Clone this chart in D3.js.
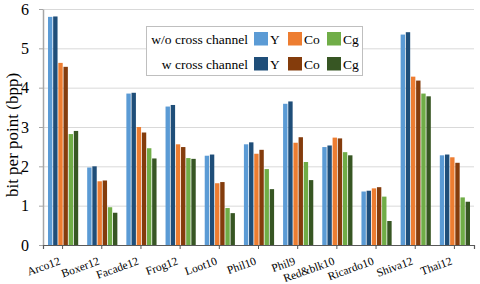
<!DOCTYPE html>
<html><head><meta charset="utf-8">
<script src="https://cdn.jsdelivr.net/npm/d3@7"></script>
<style>
html,body{margin:0;padding:0;background:#fff;}
svg{display:block;}
svg text{font-family:"Liberation Serif","Times New Roman",Tinos,"DejaVu Serif",serif !important;}
</style></head>
<body><svg id="chart" width="480" height="284"></svg>
<script>
const categories = ["Arco12","Boxer12","Facade12","Frog12","Loot10","Phil10","Phil9","Red&blk10","Ricardo10","Shiva12","Thai12"];
const seriesKeys = ["Y_wo","Y_w","Co_wo","Co_w","Cg_wo","Cg_w"];
const Y_wo  = [5.80,1.97,3.85,3.52,2.27,2.56,3.59,2.49,1.36,5.35,2.28];
const Y_w   = [5.81,2.00,3.87,3.56,2.30,2.61,3.65,2.53,1.38,5.41,2.30];
const Co_wo = [4.63,1.62,3.00,2.56,1.57,2.32,2.60,2.73,1.44,4.28,2.23];
const Co_w  = [4.53,1.64,2.86,2.49,1.60,2.42,2.74,2.71,1.47,4.18,2.09];
const Cg_wo = [2.82,0.96,2.46,2.21,0.94,1.93,2.11,2.36,1.23,3.85,1.21];
const Cg_w  = [2.90,0.82,2.20,2.19,0.81,1.42,1.65,2.28,0.61,3.78,1.10];
const yTicks = [0,1,2,3,4,5,6];
const legendRows = ["w/o cross channel","w cross channel"];
const channelNames = ["Y","Co","Cg"];
const colors = ["#5B9BD5","#1F4E79","#ED7D31","#843C0C","#70AD47","#375623"];

const seriesData = [Y_wo,Y_w,Co_wo,Co_w,Cg_wo,Cg_w];
const svg = d3.select("#chart");
const mLeft = 43, mRight = 474, mTop = 9, mBottom = 245;

const x0 = d3.scaleBand().domain(categories).range([mLeft,mRight]).padding(0);
const x1 = d3.scaleBand().domain(seriesKeys).range([5, x0.bandwidth()-4]).paddingInner(0.15).paddingOuter(0);
const y = d3.scaleLinear().domain([0,6]).range([mBottom,mTop]);

// gridlines
svg.append("g").selectAll("line").data(yTicks.filter(d=>d>0)).join("line")
  .attr("x1",mLeft).attr("x2",mRight).attr("y1",d=>y(d)+0.5).attr("y2",d=>y(d)+0.5)
  .attr("stroke","#D9D9D9").attr("stroke-width",1);

// bars
const groups = svg.append("g").selectAll("g").data(categories).join("g")
  .attr("transform",c=>`translate(${x0(c)},0)`);
groups.selectAll("rect").data((c,i)=>seriesKeys.map((k,j)=>({k,j,v:seriesData[j][i]}))).join("rect")
  .attr("x",d=>x1(d.k)).attr("width",x1.bandwidth())
  .attr("y",d=>y(d.v)).attr("height",d=>y(0)-y(d.v))
  .attr("fill",d=>colors[d.j]);

// y axis
const yAxis = svg.append("g").attr("transform",`translate(${mLeft},0)`)
  .call(d3.axisLeft(y).tickValues(yTicks).tickFormat(d3.format("d")).tickSize(4).tickPadding(10).tickSizeOuter(0));
yAxis.attr("font-family",null);
yAxis.select(".domain").attr("stroke","#A6A6A6").attr("stroke-width",1.5);
yAxis.selectAll(".tick line").attr("stroke","#A6A6A6");
yAxis.selectAll("text").attr("font-size","16px").attr("fill","#000");

// x axis
const xAxis = svg.append("g").attr("transform",`translate(0,${mBottom})`)
  .call(d3.axisBottom(x0).tickSize(4).tickSizeOuter(4).tickFormat(""));
xAxis.select(".domain").attr("stroke","#595959").attr("stroke-width",1.2);
xAxis.selectAll(".tick line").attr("stroke","#595959");
svg.append("g").selectAll("text").data(categories).join("text")
  .attr("transform",c=>`translate(${x0(c)+x0.bandwidth()/2-1.5},264) rotate(-20)`)
  .attr("text-anchor","end").attr("font-size","11.5px").attr("fill","#000")
  .text(c=>c);

// y label
svg.append("text").attr("transform",`translate(18,${(mTop+mBottom)/2+8}) rotate(-90)`)
  .attr("text-anchor","middle").attr("font-size","17px").attr("fill","#000")
  .text("bit per point (bpp)");

// legend
const lg = svg.append("g");
lg.append("rect").attr("x",146.5).attr("y",26.5).attr("width",216).attr("height",49)
  .attr("fill","#fff").attr("stroke","#BFBFBF").attr("stroke-width",1);
const rowY = [38.5,63.5];
const swX = [254,288,327];
legendRows.forEach((r,ri)=>{
  lg.append("text").attr("x",248).attr("y",rowY[ri]+5).attr("text-anchor","end")
    .attr("font-size","13.5px").attr("fill","#000").text(r);
  channelNames.forEach((ch,ci)=>{
    lg.append("rect").attr("x",swX[ci]).attr("y",rowY[ri]-6.5).attr("width",14).attr("height",13.5)
      .attr("fill",colors[ci*2+ri]);
    lg.append("text").attr("x",swX[ci]+16).attr("y",rowY[ri]+5)
      .attr("font-size","13.5px").attr("fill","#000").text(ch);
  });
});
</script></body></html>
